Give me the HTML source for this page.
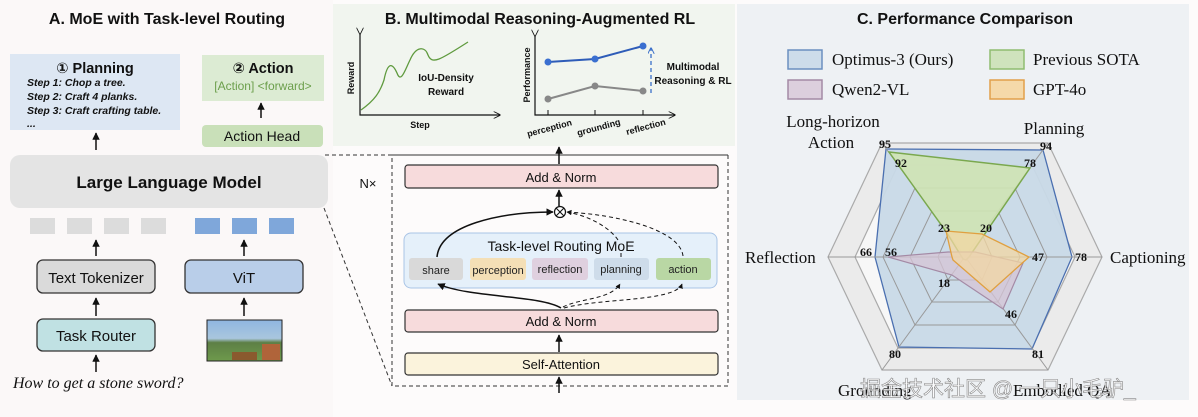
<!DOCTYPE html>
<html><head><meta charset="utf-8"><style>
html,body{margin:0;padding:0;background:#fff;width:1198px;height:417px;overflow:hidden}
svg{display:block}
.s{font-family:"Liberation Sans","DejaVu Sans",sans-serif}
.r{font-family:"Liberation Serif",serif}
</style></head><body>
<svg width="1198" height="417" viewBox="0 0 1198 417" xmlns="http://www.w3.org/2000/svg">
<defs>
<marker id="ah" viewBox="0 0 10 10" refX="9" refY="5" markerWidth="5" markerHeight="5" orient="auto"><path d="M0,0L10,5L0,10z" fill="#111"/></marker>
<marker id="ahb" viewBox="0 0 10 10" refX="9" refY="5" markerWidth="5" markerHeight="5" orient="auto"><path d="M0,0L10,5L0,10" fill="none" stroke="#3a6fc9" stroke-width="1.5"/></marker>
<marker id="ahg" viewBox="0 0 10 10" refX="9" refY="5" markerWidth="6" markerHeight="6" orient="auto"><path d="M0,0L10,5L0,10" fill="none" stroke="#111" stroke-width="1.2"/></marker>
<linearGradient id="mc" x1="0" y1="0" x2="0" y2="1"><stop offset="0" stop-color="#8fb6e0"/><stop offset="0.45" stop-color="#a9c6de"/><stop offset="0.55" stop-color="#5d7f45"/><stop offset="1" stop-color="#6e9a4c"/></linearGradient>
</defs>
<rect x="0" y="0" width="1198" height="417" fill="#fdfbfb"/>
<rect x="0" y="0" width="333" height="417" fill="#fbf8f8"/>
<rect x="333" y="4" width="402" height="142" fill="#f1f5ef"/>
<rect x="737" y="4" width="452" height="396" fill="#eef1f4"/>

<g class="s">
<text x="167" y="24" text-anchor="middle" font-size="16" font-weight="bold" fill="#111">A. MoE with Task-level Routing</text>
<rect x="10" y="54" width="170" height="76" fill="#dde7f3"/>
<text x="95" y="73" text-anchor="middle" font-size="14.5" font-weight="bold" fill="#111">① Planning</text>
<g font-size="10.5" font-weight="bold" font-style="italic" fill="#111">
<text x="27" y="86">Step 1: Chop a tree.</text>
<text x="27" y="100">Step 2: Craft 4 planks.</text>
<text x="27" y="114">Step 3: Craft crafting table.</text>
<text x="27" y="127">...</text></g>
<rect x="202" y="55" width="122" height="46" fill="#dcebd3"/>
<text x="263" y="73" text-anchor="middle" font-size="14.5" font-weight="bold" fill="#111">② Action</text>
<text x="263" y="90" text-anchor="middle" font-size="12" font-weight="500" fill="#6c9f4c">[Action] &lt;forward&gt;</text>
<line x1="261" y1="118" x2="261" y2="103" stroke="#111" stroke-width="1.5" marker-end="url(#ah)"/>
<rect x="202" y="125" width="121" height="22" rx="4" fill="#c9e0b9"/>
<text x="262" y="141" text-anchor="middle" font-size="14" fill="#111">Action Head</text>
<line x1="96" y1="150" x2="96" y2="133" stroke="#111" stroke-width="1.5" marker-end="url(#ah)"/>
<rect x="10" y="155" width="318" height="53" rx="10" fill="#e4e4e4"/>
<text x="169" y="188" text-anchor="middle" font-size="17" font-weight="bold" fill="#111">Large Language Model</text>
<g fill="#dcdcdc"><rect x="30" y="218" width="25" height="16"/><rect x="67" y="218" width="25" height="16"/><rect x="104" y="218" width="25" height="16"/><rect x="141" y="218" width="25" height="16"/></g>
<g fill="#7fa7da"><rect x="195" y="218" width="25" height="16"/><rect x="232" y="218" width="25" height="16"/><rect x="269" y="218" width="25" height="16"/></g>
<g stroke="#111" stroke-width="1.5">
<line x1="96" y1="256" x2="96" y2="240" marker-end="url(#ah)"/><line x1="244" y1="256" x2="244" y2="240" marker-end="url(#ah)"/>
<line x1="96" y1="316" x2="96" y2="298" marker-end="url(#ah)"/><line x1="244" y1="316" x2="244" y2="298" marker-end="url(#ah)"/>
<line x1="96" y1="372" x2="96" y2="355" marker-end="url(#ah)"/></g>
<rect x="37" y="260" width="118" height="33" rx="6" fill="#dadada" stroke="#333" stroke-width="1.3"/>
<text x="96" y="283" text-anchor="middle" font-size="15" fill="#111">Text Tokenizer</text>
<rect x="185" y="260" width="118" height="33" rx="6" fill="#b9cee9" stroke="#333" stroke-width="1.3"/>
<text x="244" y="283" text-anchor="middle" font-size="15" fill="#111">ViT</text>
<rect x="37" y="319" width="118" height="32" rx="6" fill="#c0e1e3" stroke="#333" stroke-width="1.3"/>
<text x="96" y="341" text-anchor="middle" font-size="15" fill="#111">Task Router</text>
<rect x="207" y="320" width="75" height="41" fill="url(#mc)" stroke="#222" stroke-width="1"/>
<rect x="232" y="352" width="25" height="8" fill="#8a5a2e"/><rect x="262" y="344" width="18" height="16" fill="#b0643a"/>
</g>
<text class="r" x="13" y="388" font-size="16" font-style="italic" fill="#111">How to get a stone sword?</text>

<g stroke="#333" stroke-width="1" stroke-dasharray="4,3" fill="none">
<line x1="325" y1="155" x2="728" y2="155"/>
<rect x="392" y="155" width="336" height="231"/>
<line x1="324" y1="208" x2="392" y2="386"/>
</g>
<text class="s" x="368" y="188" font-size="13" fill="#111" text-anchor="middle">N×</text>

<g class="s">
<line x1="559" y1="164" x2="559" y2="147" stroke="#111" stroke-width="1.5" marker-end="url(#ah)"/>
<rect x="405" y="165" width="313" height="23" rx="3" fill="#f7dbdc" stroke="#333" stroke-width="1.2"/>
<text x="561" y="182" text-anchor="middle" font-size="13" fill="#111">Add &amp; Norm</text>
<line x1="559" y1="206" x2="559" y2="190" stroke="#111" stroke-width="1.5" marker-end="url(#ah)"/>
<circle cx="560" cy="212" r="5.5" fill="#fff" stroke="#111" stroke-width="1.2"/>
<path d="M556,208L564,216M564,208L556,216" stroke="#111" stroke-width="1.1"/>
<rect x="404" y="233" width="313" height="55" rx="7" fill="#e5f0fa" stroke="#a9c4e6" stroke-width="1"/>
<text x="561" y="251" text-anchor="middle" font-size="14" fill="#111">Task-level Routing MoE</text>
<rect x="409" y="258" width="54" height="22" rx="3" fill="#d9d9d9"/><text x="436" y="274" text-anchor="middle" font-size="11" fill="#222">share</text>
<rect x="470" y="258" width="56" height="22" rx="3" fill="#f4dfb6"/><text x="498" y="274" text-anchor="middle" font-size="11" fill="#222">perception</text>
<rect x="532" y="258" width="56" height="22" rx="3" fill="#dfd0df"/><text x="560" y="273" text-anchor="middle" font-size="11" fill="#222">reflection</text>
<rect x="594" y="258" width="55" height="22" rx="3" fill="#cedcea"/><text x="621" y="273" text-anchor="middle" font-size="11" fill="#222">planning</text>
<rect x="656" y="258" width="55" height="22" rx="3" fill="#b9d7a4"/><text x="683" y="273" text-anchor="middle" font-size="11" fill="#222">action</text>
<path d="M437,257 C440,225 500,212 553,212" fill="none" stroke="#111" stroke-width="1.5" marker-end="url(#ah)"/>
<path d="M621,257 L621,252 M618,240 C610,228 590,216 567,212" fill="none" stroke="#111" stroke-width="1" stroke-dasharray="4,3" marker-end="url(#ah)"/>
<path d="M683,256 C680,230 620,215 567,212" fill="none" stroke="#111" stroke-width="1" stroke-dasharray="4,3" marker-end="url(#ah)"/>
<path d="M561,308 C540,295 470,298 438,284" fill="none" stroke="#111" stroke-width="1.5" marker-end="url(#ah)"/>
<path d="M563,307 C580,298 610,300 620,284" fill="none" stroke="#111" stroke-width="1" stroke-dasharray="4,3" marker-end="url(#ah)"/>
<path d="M564,308 C600,298 675,302 682,284" fill="none" stroke="#111" stroke-width="1" stroke-dasharray="4,3" marker-end="url(#ah)"/>
<rect x="405" y="310" width="313" height="22" rx="3" fill="#f7dbdc" stroke="#333" stroke-width="1.2"/>
<text x="561" y="326" text-anchor="middle" font-size="13" fill="#111">Add &amp; Norm</text>
<line x1="559" y1="352" x2="559" y2="335" stroke="#111" stroke-width="1.5" marker-end="url(#ah)"/>
<rect x="405" y="353" width="313" height="22" rx="3" fill="#fbf3dc" stroke="#333" stroke-width="1.2"/>
<text x="561" y="369" text-anchor="middle" font-size="13" fill="#111">Self-Attention</text>
<line x1="559" y1="393" x2="559" y2="377" stroke="#111" stroke-width="1.5" marker-end="url(#ah)"/>
</g>

<g class="s">
<text x="540" y="24" text-anchor="middle" font-size="16" font-weight="bold" fill="#111">B. Multimodal Reasoning-Augmented RL</text>
<path d="M360,34 L360,115 L500,115" fill="none" stroke="#111" stroke-width="1.2" marker-start="url(#ahg)" marker-end="url(#ahg)"/>
<text x="354" y="78" font-size="9" font-weight="bold" transform="rotate(-90 354 78)" text-anchor="middle" fill="#111">Reward</text>
<text x="420" y="128" font-size="9" font-weight="bold" text-anchor="middle" fill="#111">Step</text>
<path d="M361,110 C375,100 380,92 384,80 C388,60 393,64 397,73 C401,84 405,70 410,60 C416,46 425,46 428,55 C432,65 440,60 468,42" fill="none" stroke="#5f9a3e" stroke-width="1.3"/>
<text x="446" y="81" font-size="10" font-weight="bold" text-anchor="middle" fill="#111">IoU-Density</text>
<text x="446" y="95" font-size="10" font-weight="bold" text-anchor="middle" fill="#111">Reward</text>
<path d="M535,36 L535,115 L675,115" fill="none" stroke="#111" stroke-width="1.2" marker-start="url(#ahg)" marker-end="url(#ahg)"/>
<text x="530" y="75" font-size="9" font-weight="bold" transform="rotate(-90 530 75)" text-anchor="middle" fill="#111">Performance</text>
<g stroke="#111" stroke-width="1"><line x1="548" y1="110" x2="548" y2="115"/><line x1="595" y1="110" x2="595" y2="115"/><line x1="643" y1="110" x2="643" y2="115"/></g>
<polyline points="548,62 595,59 643,46" fill="none" stroke="#2e5cb8" stroke-width="2"/>
<g fill="#3a6fd0"><circle cx="548" cy="62" r="3.5"/><circle cx="595" cy="59" r="3.5"/><circle cx="643" cy="46" r="3.5"/></g>
<polyline points="548,99 595,86 643,91" fill="none" stroke="#888" stroke-width="2"/>
<g fill="#888"><circle cx="548" cy="99" r="3.5"/><circle cx="595" cy="86" r="3.5"/><circle cx="643" cy="91" r="3.5"/></g>
<line x1="651" y1="93" x2="651" y2="48" stroke="#3a6fc9" stroke-width="1.3" stroke-dasharray="4,3" marker-end="url(#ahb)"/>
<text x="693" y="70" font-size="10" font-weight="bold" text-anchor="middle" fill="#111">Multimodal</text>
<text x="693" y="84" font-size="10" font-weight="bold" text-anchor="middle" fill="#111">Reasoning &amp; RL</text>
<g font-size="9" font-weight="bold" fill="#111">
<text x="528" y="137" transform="rotate(-15 528 137)">perception</text>
<text x="578" y="136" transform="rotate(-15 578 136)">grounding</text>
<text x="627" y="135" transform="rotate(-15 627 135)">reflection</text></g>
</g>

<g class="s"><text x="965" y="24" text-anchor="middle" font-size="16" font-weight="bold" fill="#111">C. Performance Comparison</text></g>
<g class="r" font-size="17" fill="#111">
<rect x="788" y="50" width="34" height="19" fill="#cddcea" stroke="#6b8fc0" stroke-width="1.5"/><text x="832" y="65">Optimus-3 (Ours)</text>
<rect x="990" y="50" width="34" height="19" fill="#cfe3bd" stroke="#8fbd70" stroke-width="1.5"/><text x="1033" y="65">Previous SOTA</text>
<rect x="788" y="80" width="34" height="19" fill="#dccfdd" stroke="#a48aa5" stroke-width="1.5"/><text x="832" y="95">Qwen2-VL</text>
<rect x="990" y="80" width="34" height="19" fill="#f5d9a9" stroke="#e2a04a" stroke-width="1.5"/><text x="1033" y="95">GPT-4o</text>
</g>
<polygon points="882,143 1048,143 1102,257 1048,370 882,370 828,257" fill="#ebebeb" stroke="#aaa" stroke-width="1.2"/>
<polygon points="898,165 1032,165 1075,257 1032,348 898,348 855,257" fill="#f7f7f7" stroke="#aaa" stroke-width="1.2"/>
<polygon points="886,149 1043,150 1072,257 1032,349 899,347 875,257" fill="#c8d9e7" fill-opacity="0.95" stroke="#4a6fb0" stroke-width="1.3"/>
<g fill="none" stroke="#999" stroke-width="1">
<polygon points="915,188 1015,188 1047,257 1015,325 915,325 883,257"/>
<polygon points="932,211 998,211 1020,257 998,302 932,302 910,257"/>
<polygon points="948,234 982,234 992,257 982,280 948,280 938,257"/>
<line x1="882" y1="143" x2="1048" y2="370"/><line x1="1048" y1="143" x2="882" y2="370"/><line x1="828" y1="257" x2="1102" y2="257"/>
</g>
<polygon points="889,152 1030,168 969,257 966,260 963,259 947,233" fill="#cfe3b4" fill-opacity="0.9" stroke="#7aa84e" stroke-width="1.5"/>
<polygon points="888,257 948,252 975,252 1023,263 1003,309 952,275" fill="#d5c4d6" fill-opacity="0.75" stroke="#a48aa5" stroke-width="1.2"/>
<polygon points="946,231 982,234 1029,257 990,292 953,260 952,257" fill="#f3d7a3" fill-opacity="0.75" stroke="#e0a040" stroke-width="1.3"/>
<g class="r" font-size="12" font-weight="bold" fill="#111" text-anchor="middle">
<text x="885" y="148">95</text><text x="901" y="167">92</text><text x="1046" y="150">94</text><text x="1030" y="167">78</text>
<text x="944" y="232">23</text><text x="986" y="232">20</text><text x="1038" y="261">47</text><text x="1081" y="261">78</text>
<text x="866" y="256">66</text><text x="891" y="256">56</text><text x="944" y="287">18</text><text x="1011" y="318">46</text>
<text x="895" y="358">80</text><text x="1038" y="358">81</text>
</g>
<g class="r" font-size="17" fill="#111">
<text x="833" y="127" text-anchor="middle">Long-horizon</text><text x="831" y="148" text-anchor="middle">Action</text>
<text x="1054" y="134" text-anchor="middle">Planning</text>
<text x="1110" y="263">Captioning</text>
<text x="745" y="263">Reflection</text>
<text x="838" y="396">Grounding</text><text x="1013" y="396">Embodied QA</text>
</g>
<text x="860" y="396" font-family="'Liberation Sans','Noto Sans CJK SC',sans-serif" font-size="21" fill="#ffffff" fill-opacity="0.8" stroke="#888" stroke-width="0.6">掘金技术社区 @ 一只小毛驴_</text>
</svg>
</body></html>
